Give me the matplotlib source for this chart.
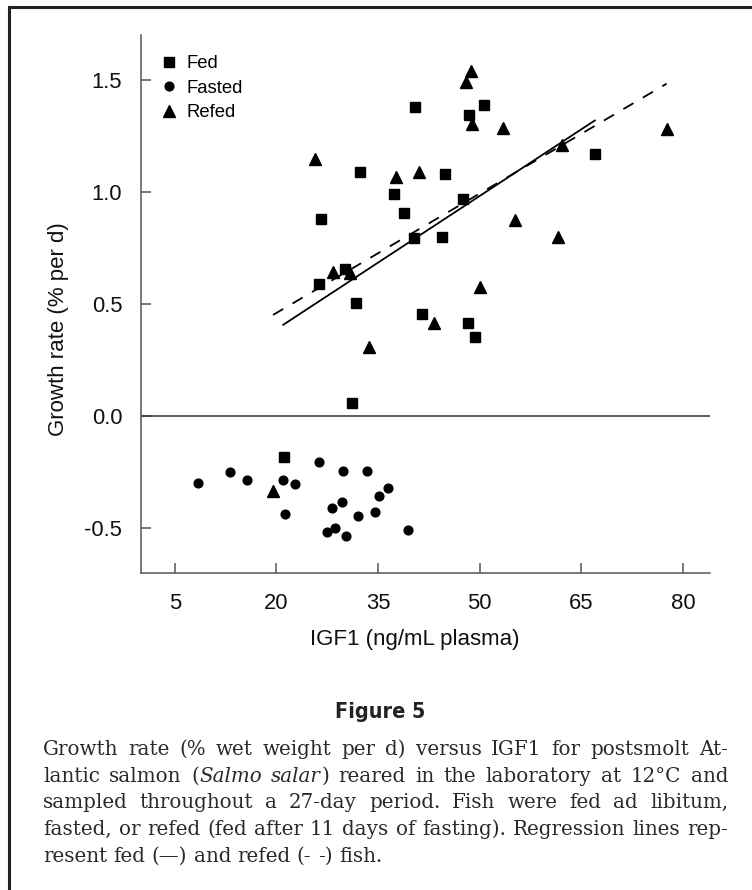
import matplotlib.pyplot as plt
from matplotlib.lines import Line2D

plt.rcParams['font.family'] = ['Liberation Sans', 'DejaVu Sans']

# growth rate vs IGF1
fed_x = [40.4, 32.3, 37.3, 38.8, 26.6, 40.3, 50.6, 48.4, 67.0, 44.9,
         47.5, 44.5, 30.1, 26.3, 31.7, 31.2, 41.5, 48.3, 49.3, 21.1]
fed_y = [1.38, 1.09, 0.99, 0.905, 0.88, 0.795, 1.39, 1.345, 1.17, 1.08,
         0.97, 0.80, 0.655, 0.59, 0.505, 0.06, 0.455, 0.415, 0.352, -0.18]

fasted_x = [8.35, 13.2, 15.7, 20.9, 22.7, 21.2, 26.3, 29.8, 33.4, 36.4,
            35.2, 29.7, 28.2, 32.1, 34.5, 27.4, 28.7, 30.2, 39.4]
fasted_y = [-0.297, -0.248, -0.285, -0.285, -0.30, -0.437, -0.203, -0.246, -0.246, -0.32,
            -0.356, -0.383, -0.41, -0.446, -0.428, -0.516, -0.498, -0.535, -0.505]

refed_x = [25.7, 37.7, 41.0, 48.7, 48.0, 48.9, 53.4, 77.6, 62.1, 55.2,
           61.6, 28.3, 30.8, 33.7, 43.2, 50.0, 19.5]
refed_y = [1.145, 1.065, 1.09, 1.54, 1.49, 1.305, 1.285, 1.28, 1.21, 0.875,
           0.80, 0.645, 0.64, 0.31, 0.415, 0.575, -0.335]

# regression line end points
fed_fit_x = [21.0, 67.0]
fed_fit_y = [0.408, 1.319]
refed_fit_x = [19.5, 77.6]
refed_fit_y = [0.452, 1.483]

xticks = [5, 20, 35, 50, 65, 80]
yticks = [-0.5, 0.0, 0.5, 1.0, 1.5]
ytick_labels = ['-0.5', '0.0', '0.5', '1.0', '1.5']

caption = [
    "Growth rate (% wet weight per d) versus IGF1 for postsmolt At-",
    "lantic salmon (_Salmo_ _salar_) reared in the laboratory at 12\u00b0C and",
    "sampled throughout a 27-day period. Fish were fed ad libitum,",
    "fasted, or refed (fed after 11 days of fasting). Regression lines rep-",
    "resent fed (\u2014) and refed (- -) fish.",
]

W, H = 752, 890
fig = plt.figure(figsize=(W / 100, H / 100), dpi=100)
ax = fig.add_axes([141 / W, 1 - 573.3 / H, (710 - 141) / W, (573.3 - 35) / H])

ax.plot(fed_x, fed_y, 's', ms=7.2, color='black', label='Fed')
ax.plot(fasted_x, fasted_y, 'o', ms=6.3, color='black', label='Fasted')
ax.plot(refed_x, refed_y, '^', ms=8.5, color='black', label='Refed')
ax.plot(fed_fit_x, fed_fit_y, color='black', lw=1.3)
ax.plot(refed_fit_x, refed_fit_y, color='black', lw=1.3, linestyle=(0, (6.5, 6)))
ax.axhline(0, color='#333333', lw=1.1)

ax.set_xlim(0, 84)
ax.set_ylim(-0.7, 1.7)
ax.set_xticks(xticks)
ax.set_yticks(yticks)
ax.set_yticklabels(ytick_labels)
for s in ['top', 'right']:
    ax.spines[s].set_visible(False)
for s in ['left', 'bottom']:
    ax.spines[s].set_color('#555555')
    ax.spines[s].set_linewidth(1.1)
ax.tick_params(direction='in', length=7.2, width=1.1, color='#555555',
               labelsize=15.8, labelcolor='#111111')
ax.tick_params(axis='y', pad=13.5)
ax.tick_params(axis='x', pad=14)

ax.set_xlabel('IGF1 (ng/mL plasma)', fontsize=16, color='#111111')
ax.set_ylabel('Growth rate (% per d)', fontsize=16, color='#111111')
ax.xaxis.set_label_coords((414.5 - 141) / 569, (573.3 - 629) / 538.3)
ax.yaxis.set_label_coords((69 - 141) / 569, (573.3 - 329) / 538.3)

ax.legend(loc='upper left', bbox_to_anchor=(0.033, 0.962), frameon=False,
          fontsize=13.3, borderpad=0, borderaxespad=0, handlelength=1.0,
          handletextpad=0.42, labelspacing=0.4, numpoints=1)

# box edges of the original page crop
fig.add_artist(Line2D([9 / W, 9 / W], [0, 1 - 6.7 / H], color='#222222', lw=2.2))
fig.add_artist(Line2D([9 / W, 1], [1 - 6.7 / H, 1 - 6.7 / H], color='#222222', lw=2.2))

fig.text(380 / W, 1 - 712 / H, 'Figure 5', ha='center', va='center', fontsize=15.5,
         fontweight='bold', fontstretch='condensed', family=['DejaVu Sans'], color='#222222')

# justified caption
fig.canvas.draw()
rend = fig.canvas.get_renderer()
cap_kw = dict(fontsize=14.3, family=['DejaVu Serif'], color='#2a2a2a')
left, right = 43, 728
base = 755
for n, line in enumerate(caption):
    words = []
    for w in line.split(' '):
        pieces = [(s, i % 2 == 1) for i, s in enumerate(w.split('_')) if s]
        widths = []
        for s, it in pieces:
            t = fig.text(0, 0, s, style='italic' if it else 'normal', **cap_kw)
            widths.append(t.get_window_extent(rend).width)
            t.remove()
        words.append((pieces, widths))
    total = sum(sum(ws) for _, ws in words)
    if n < len(caption) - 1:
        gap = (right - left - total) / (len(words) - 1)
    else:
        t = fig.text(0, 0, 'a b', **cap_kw)
        t2 = fig.text(0, 0, 'ab', **cap_kw)
        gap = t.get_window_extent(rend).width - t2.get_window_extent(rend).width
        t.remove()
        t2.remove()
    x = left
    y = base + n * 26.67
    for pieces, widths in words:
        for (s, it), wd in zip(pieces, widths):
            fig.text(x / W, 1 - y / H, s, ha='left', va='baseline',
                     style='italic' if it else 'normal', **cap_kw)
            x += wd
        x += gap

fig.savefig('out.png', dpi=100)
